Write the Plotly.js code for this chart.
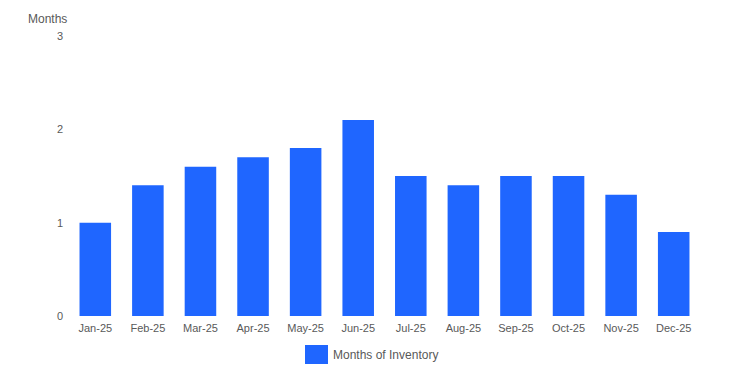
<!DOCTYPE html>
<html><head><meta charset="utf-8">
<script src="https://cdn.plot.ly/plotly-3.0.1.min.js"></script>
<style>html,body{margin:0;padding:0;background:#fff}#chart{width:737px;height:378px}</style>
</head><body><div id="chart"></div>
<script>
const months = ["Jan-25","Feb-25","Mar-25","Apr-25","May-25","Jun-25","Jul-25","Aug-25","Sep-25","Oct-25","Nov-25","Dec-25"];
const inventory = [1.0,1.4,1.6,1.7,1.8,2.1,1.5,1.4,1.5,1.5,1.3,0.9];
const seriesName = "Months of Inventory";
const yTicks = [0,1,2,3];
const barColor = "#1f66ff";
const textColor = "#595959";

const data = [{
  type: "bar", x: months, y: inventory, name: seriesName,
  marker: {color: barColor}, showlegend: false, hoverinfo: "x+y"
}];
const layout = {
  width: 737, height: 378,
  margin: {l: 69, r: 37, t: 36, b: 62},
  paper_bgcolor: "#fff", plot_bgcolor: "#fff",
  font: {family: "Liberation Sans, Arial, sans-serif", size: 11, color: textColor},
  bargap: 0.4,
  xaxis: {showgrid: false, zeroline: false, showline: false, ticks: "", ticklabelstandoff: 4,
          tickfont: {size: 11, color: textColor}},
  yaxis: {range: [0, 3], tickvals: yTicks, showgrid: false, zeroline: false, showline: false, ticks: "",
          ticklabelstandoff: 5, tickfont: {size: 11, color: textColor}},
  shapes: [{type: "rect", xref: "paper", yref: "paper",
            x0: (305-69)/631, x1: (328-69)/631, y0: (316-364)/280, y1: (316-345)/280,
            fillcolor: barColor, line: {width: 0}}],
  annotations: [
    {text: seriesName, xref: "paper", yref: "paper", x: (331-69)/631, y: (316-355)/280,
     xanchor: "left", yanchor: "middle", showarrow: false, font: {size: 12, color: textColor}},
    {text: "Months", xref: "paper", yref: "paper", x: (69-69)/631, y: 1 + (36-19)/280,
     xanchor: "right", yanchor: "middle", showarrow: false, font: {size: 12, color: textColor}}
  ]
};
Plotly.newPlot("chart", data, layout, {displayModeBar: false, staticPlot: true});
</script></body></html>
